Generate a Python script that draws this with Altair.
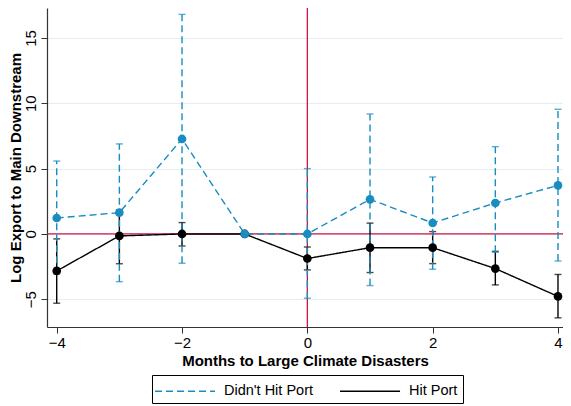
import altair as alt
import pandas as pd

months = [-4, -3, -2, -1, 0, 1, 2, 3, 4]
series_names = ["Didn't Hit Port", "Hit Port"]

# Didn't Hit Port
dh_est = [1.22, 1.63, 7.27, 0.0, 0.0, 2.65, 0.84, 2.37, 3.72]
dh_lo = [-3.08, -3.65, -2.24, None, -4.92, -3.95, -2.70, -1.40, -2.07]
dh_hi = [5.58, 6.89, 16.80, None, 5.00, 9.18, 4.36, 6.68, 9.54]

# Hit Port
h_est = [-2.83, -0.15, 0.0, 0.0, -1.88, -1.05, -1.05, -2.65, -4.78]
h_lo = [-5.30, -2.28, -0.92, None, -2.75, -2.95, -2.27, -3.90, -6.42]
h_hi = [-0.38, 1.85, 0.87, None, -1.00, 0.83, 0.18, -1.33, -3.10]

x_ticks = [-4, -2, 0, 2, 4]
y_ticks = [-5, 0, 5, 10, 15]

BLUE = "#1a8cc0"
BLACK = "#000000"
RED = "#cc1646"
FONT = "Liberation Sans"

dh = pd.DataFrame({"month": months, "est": dh_est, "lo": dh_lo, "hi": dh_hi,
                   "series": series_names[0]})
h = pd.DataFrame({"month": months, "est": h_est, "lo": h_lo, "hi": h_hi,
                  "series": series_names[1]})
both = pd.concat([dh, h], ignore_index=True)

XT = "Months to Large Climate Disasters"
YT = "Log Export to Main Downstream"


def X(field="month"):
    return alt.X(f"{field}:Q", title=XT,
                 scale=alt.Scale(domain=[-4.155, 4.08], nice=False, zero=False),
                 axis=alt.Axis(values=x_ticks, grid=False, format="d"))


def Y(field):
    return alt.Y(f"{field}:Q", title=YT,
                 scale=alt.Scale(domain=[-7.12, 17.29], nice=False, zero=False),
                 axis=alt.Axis(values=y_ticks, grid=True, format="d",
                               labelAngle=270, labelAlign="center",
                               labelBaseline="bottom"))


hline = alt.Chart(pd.DataFrame({"v": [0]})).mark_rule(
    color=RED, strokeWidth=1.3).encode(y=alt.datum(0))
vline = alt.Chart(pd.DataFrame({"v": [0]})).mark_rule(
    color=RED, strokeWidth=1.3).encode(x=alt.datum(0))


def ci_layers(df, color, dash):
    base = alt.Chart(df).transform_filter("isValid(datum.lo)")
    rule = base.mark_rule(color=color, strokeWidth=1.4, strokeDash=dash).encode(
        x=X(), y=Y("lo"), y2="hi:Q")
    cap_lo = base.mark_tick(color=color, orient="horizontal", size=7,
                            thickness=1.4).encode(x=X(), y=Y("lo"))
    cap_hi = base.mark_tick(color=color, orient="horizontal", size=7,
                            thickness=1.4).encode(x=X(), y=Y("hi"))
    return [rule, cap_lo, cap_hi]


legend = alt.Legend(title=None, orient="none", legendX=105, legendY=367,
                    direction="horizontal",
                    symbolType="M-1.3,0H4.7", symbolSize=400,
                    symbolStrokeWidth=1.4,
                    labelFont=FONT, labelFontSize=14.5,
                    labelColor="#000", labelOffset=45,
                    columnPadding=24, padding=5,
                    strokeColor="#000", fillColor="#fff")

lines = alt.Chart(both).mark_line(strokeWidth=1.4).encode(
    x=X(), y=Y("est"),
    color=alt.Color("series:N", sort=series_names,
                    scale=alt.Scale(domain=series_names, range=[BLUE, BLACK]),
                    legend=legend),
    strokeDash=alt.StrokeDash("series:N", sort=series_names,
                              scale=alt.Scale(domain=series_names,
                                              range=[[7, 4], [1, 0]]),
                              legend=legend),
)

pts_dh = alt.Chart(dh).mark_circle(size=75, opacity=1, color=BLUE).encode(
    x=X(), y=Y("est"))
pts_h = alt.Chart(h).mark_circle(size=75, opacity=1, color=BLACK).encode(
    x=X(), y=Y("est"))

layers = [hline, vline] + ci_layers(h, BLACK, [1, 0]) + ci_layers(dh, BLUE, [7, 4]) \
    + [lines, pts_h, pts_dh]

chart = alt.layer(*layers).properties(
    width=516, height=319,
    autosize=alt.AutoSizeParams(type="none"),
    padding={"left": 39, "top": 0, "right": 0, "bottom": 79},
    background="white",
).configure_view(stroke=None).configure_axis(
    labelFont=FONT, labelFontSize=15, labelColor="#000",
    titleFont=FONT, titleFontSize=15, titleFontWeight="bold", titleColor="#000",
    domainColor="#333", domainWidth=1.2, tickColor="#333", tickSize=6,
    gridColor="#e3eeef", gridWidth=1,
).configure_axisY(labelPadding=3, titlePadding=0).configure_axisX(
    labelPadding=2, titlePadding=3)

chart.save("out.html", embed_options={"renderer": "svg", "actions": False})
